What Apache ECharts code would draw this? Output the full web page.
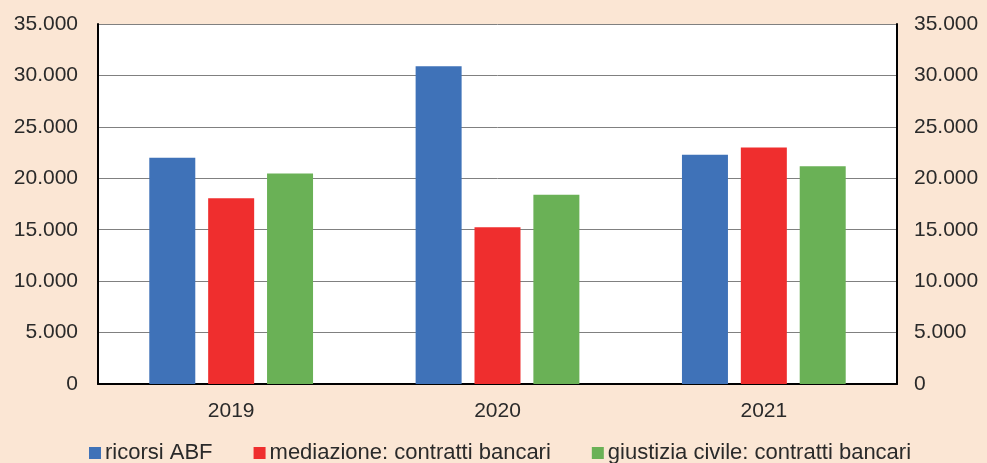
<!DOCTYPE html>
<html><head><meta charset="utf-8">
<script src="https://cdn.jsdelivr.net/npm/echarts@6/dist/echarts.min.js"></script>
<style>html,body{margin:0;padding:0;background:#fbe6d4;}#c{width:987px;height:463px;}</style>
</head><body><div id="c"></div>
<script>
const categories = ['2019', '2020', '2021'];
const ricorsiABF = [22000, 30900, 22300];
const mediazione = [18070, 15250, 23000];
const giustizia = [20470, 18400, 21170];
const seriesNames = ['ricorsi ABF', 'mediazione: contratti bancari', 'giustizia civile: contratti bancari'];
const colors = ['#3f72b8', '#ef2e2e', '#6ab156'];

const fmt = v => v === 0 ? '0' : String(v).replace(/\B(?=(\d{3})+(?!\d))/g, '.');
const font = 'Liberation Sans';
const chart = echarts.init(document.getElementById('c'));
const yAx = (pos) => ({
  type: 'value', position: pos, min: 0, max: 35000, interval: 5000,
  axisLine: {show: true, lineStyle: {color: '#000', width: 2}},
  axisTick: {show: false},
  splitLine: {show: pos === 'left', lineStyle: {color: '#808080', width: 1}},
  axisLabel: {formatter: fmt, color: '#2a2a2a', fontSize: 21, fontFamily: font, margin: pos === 'left' ? 20 : 17}
});
chart.setOption({
  backgroundColor: '#fbe6d4',
  animation: false,
  grid: {left: 98, right: 90, top: 24, bottom: 79, backgroundColor: '#fff', show: true, borderWidth: 0},
  legend: {
    top: 437, left: 84, itemWidth: 12, itemHeight: 12, itemGap: 41, icon: 'rect',
    textStyle: {color: '#2a2a2a', fontSize: 22, fontFamily: font, padding: [0, 0, 0, -1]},
    data: seriesNames
  },
  xAxis: {
    type: 'category', data: categories,
    axisLine: {lineStyle: {color: '#000', width: 2}},
    axisTick: {show: false},
    axisLabel: {color: '#2a2a2a', fontSize: 21, fontFamily: font, margin: 17}
  },
  yAxis: [yAx('left'), yAx('right')],
  series: [ricorsiABF, mediazione, giustizia].map((d, i) => ({
    name: seriesNames[i], type: 'bar', data: d, barWidth: 46, barGap: '28%',
    itemStyle: {color: colors[i]}
  }))
});
</script></body></html>
